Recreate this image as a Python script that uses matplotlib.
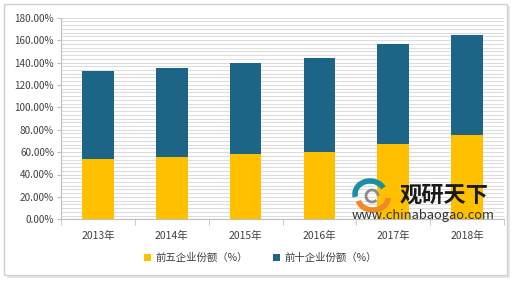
#!/usr/bin/env python3
"""Stacked bar chart of top-5 / top-10 enterprise market share, 2013-2018."""

import matplotlib as mpl

mpl.use("Agg")
import matplotlib.pyplot as plt
import numpy as np
from matplotlib.patches import Arc, Rectangle
from matplotlib.ticker import FuncFormatter, MultipleLocator

plt.rcParams["font.family"] = ["Noto Sans CJK SC", "DejaVu Sans"]

years = ["2013年", "2014年", "2015年", "2016年", "2017年", "2018年"]
top5_share = [54.0, 55.2, 58.2, 59.7, 67.1, 75.1]
top10_total = [132.0, 135.2, 139.3, 143.6, 156.2, 164.9]
top10_share = [t - f for t, f in zip(top10_total, top5_share)]

YELLOW = "#FFC000"
BLUE = "#1D6587"
AXIS_GRAY = "#BFBFBF"
TEXT = "#404040"


def main() -> None:
    fig = plt.figure(figsize=(5.2, 2.81), dpi=100)

    # outer frame with a soft shadow, like the exported chart area
    fig.patches.append(Rectangle((7 / 520, 3 / 281), 503 / 520, 272 / 281,
                                 transform=fig.transFigure, facecolor="#E6E6E6",
                                 edgecolor="none", zorder=-2))
    fig.patches.append(Rectangle((4 / 520, 6 / 281), 503 / 520, 271 / 281,
                                 transform=fig.transFigure, facecolor="white",
                                 edgecolor="#D0D0D0", linewidth=1.0, zorder=-1))

    ax = fig.add_axes([61 / 520, 1 - 219.3 / 281, 443 / 520, 201.6 / 281])
    ax.set_zorder(1)
    x = np.arange(len(years))
    width = 0.43
    ax.bar(x, top5_share, width, color=YELLOW, label="前五企业份额（%）", zorder=3)
    ax.bar(x, top10_share, width, bottom=top5_share, color=BLUE,
           label="前十企业份额（%）", zorder=3)

    ax.set_xlim(-0.5, len(years) - 0.5)
    ax.set_ylim(0, 180)
    ax.yaxis.set_major_locator(MultipleLocator(20))
    ax.yaxis.set_minor_locator(MultipleLocator(20 / 6))
    ax.yaxis.set_major_formatter(FuncFormatter(lambda v, _: f"{v:.2f}%"))
    ax.grid(axis="y", which="both", color="#DDDDDD", linewidth=0.8, zorder=0)
    ax.tick_params(axis="y", which="minor", length=0)
    ax.tick_params(axis="y", which="major", length=3, color=AXIS_GRAY,
                   labelsize=7.2, labelcolor=TEXT, pad=2)

    ax.set_xticks(x)
    ax.set_xticklabels(years)
    ax.set_xticks(np.arange(len(years) + 1) - 0.5, minor=True)
    ax.tick_params(axis="x", which="major", length=0, labelsize=7.5,
                   labelcolor=TEXT, pad=8)
    ax.tick_params(axis="x", which="minor", length=4, color=AXIS_GRAY)

    for side in ("top", "right"):
        ax.spines[side].set_visible(False)
    for side in ("left", "bottom"):
        ax.spines[side].set_color(AXIS_GRAY)
        ax.spines[side].set_linewidth(0.8)

    fig.legend(loc="center", bbox_to_anchor=(0.5, 1 - 258 / 281), ncol=2,
               frameon=False, fontsize=7.5, handlelength=0.7, handleheight=0.7,
               handletextpad=0.4, columnspacing=2.4, labelcolor=TEXT)

    # watermark
    fig.patches.append(Arc((370 / 520, 1 - 194 / 281), 30 / 520, 26 / 281,
                           theta1=40, theta2=200, transform=fig.transFigure,
                           color="#1C8FA6", linewidth=4, zorder=5))
    fig.patches.append(Arc((373 / 520, 1 - 198 / 281), 30 / 520, 24 / 281,
                           theta1=200, theta2=360, transform=fig.transFigure,
                           color="#F08A24", linewidth=4, zorder=5))
    fig.patches.append(Arc((372 / 520, 1 - 196 / 281), 12 / 520, 12 / 281,
                           theta1=0, theta2=300, transform=fig.transFigure,
                           color="#8C8C8C", linewidth=2.0, zorder=5))
    fig.text(444 / 520, 1 - 195 / 281, "观研天下", ha="center", va="center",
             fontsize=16, fontweight="bold", color="#1A1A1A", zorder=6)
    fig.text(423 / 520, 1 - 215 / 281, "www.chinabaogao.com", ha="center",
             va="center", fontsize=9.3, color="#333333", zorder=6)

    fig.savefig("out.png", dpi=100)
    plt.close(fig)


if __name__ == "__main__":
    main()
